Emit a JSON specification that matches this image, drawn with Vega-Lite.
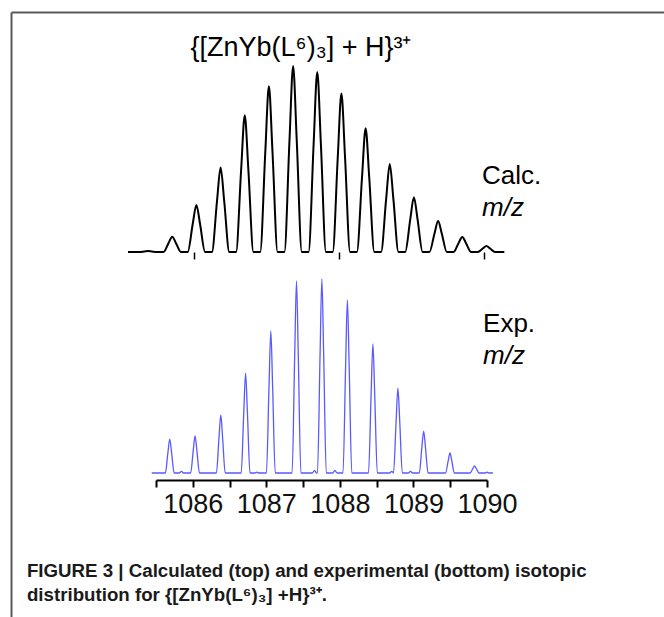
{
  "$schema": "https://vega.github.io/schema/vega-lite/v6.json",
  "width": 653,
  "height": 605,
  "autosize": {"type": "none"},
  "padding": {"left": 11, "top": 12, "right": 0, "bottom": 0},
  "background": "white",
  "config": {"view": {"stroke": null}, "font": "Liberation Sans", "axis": {"grid": false}},
  "datasets": {
    "calc": [
      {"mz": 1085.09, "intensity": 0},
      {"mz": 1085.247, "intensity": 0}, {"mz": 1085.317, "intensity": 0.3}, {"mz": 1085.367, "intensity": 0.5}, {"mz": 1085.417, "intensity": 0.3}, {"mz": 1085.487, "intensity": 0},
      {"mz": 1085.58, "intensity": 0}, {"mz": 1085.65, "intensity": 4.9}, {"mz": 1085.70, "intensity": 8.2}, {"mz": 1085.75, "intensity": 4.9}, {"mz": 1085.82, "intensity": 0},
      {"mz": 1085.913, "intensity": 0}, {"mz": 1085.983, "intensity": 15.2}, {"mz": 1086.033, "intensity": 25.3}, {"mz": 1086.083, "intensity": 15.2}, {"mz": 1086.153, "intensity": 0},
      {"mz": 1086.247, "intensity": 0}, {"mz": 1086.317, "intensity": 27.2}, {"mz": 1086.367, "intensity": 45.4}, {"mz": 1086.417, "intensity": 27.2}, {"mz": 1086.487, "intensity": 0},
      {"mz": 1086.58, "intensity": 0}, {"mz": 1086.65, "intensity": 44.1}, {"mz": 1086.70, "intensity": 73.5}, {"mz": 1086.75, "intensity": 44.1}, {"mz": 1086.82, "intensity": 0},
      {"mz": 1086.913, "intensity": 0}, {"mz": 1086.983, "intensity": 53.5}, {"mz": 1087.033, "intensity": 89.1}, {"mz": 1087.083, "intensity": 53.5}, {"mz": 1087.153, "intensity": 0},
      {"mz": 1087.247, "intensity": 0}, {"mz": 1087.317, "intensity": 60}, {"mz": 1087.367, "intensity": 100}, {"mz": 1087.417, "intensity": 60}, {"mz": 1087.487, "intensity": 0},
      {"mz": 1087.58, "intensity": 0}, {"mz": 1087.65, "intensity": 58.1}, {"mz": 1087.70, "intensity": 96.8}, {"mz": 1087.75, "intensity": 58.1}, {"mz": 1087.82, "intensity": 0},
      {"mz": 1087.913, "intensity": 0}, {"mz": 1087.983, "intensity": 51.1}, {"mz": 1088.033, "intensity": 85.2}, {"mz": 1088.083, "intensity": 51.1}, {"mz": 1088.153, "intensity": 0},
      {"mz": 1088.247, "intensity": 0}, {"mz": 1088.317, "intensity": 39.9}, {"mz": 1088.367, "intensity": 66.5}, {"mz": 1088.417, "intensity": 39.9}, {"mz": 1088.487, "intensity": 0},
      {"mz": 1088.58, "intensity": 0}, {"mz": 1088.65, "intensity": 28.4}, {"mz": 1088.70, "intensity": 47.3}, {"mz": 1088.75, "intensity": 28.4}, {"mz": 1088.82, "intensity": 0},
      {"mz": 1088.913, "intensity": 0}, {"mz": 1088.983, "intensity": 17.7}, {"mz": 1089.033, "intensity": 29.5}, {"mz": 1089.083, "intensity": 17.7}, {"mz": 1089.153, "intensity": 0},
      {"mz": 1089.247, "intensity": 0}, {"mz": 1089.317, "intensity": 10.0}, {"mz": 1089.367, "intensity": 16.7}, {"mz": 1089.417, "intensity": 10.0}, {"mz": 1089.487, "intensity": 0},
      {"mz": 1089.58, "intensity": 0}, {"mz": 1089.65, "intensity": 4.9}, {"mz": 1089.70, "intensity": 8.1}, {"mz": 1089.75, "intensity": 4.9}, {"mz": 1089.82, "intensity": 0},
      {"mz": 1089.913, "intensity": 0}, {"mz": 1089.983, "intensity": 1.9}, {"mz": 1090.033, "intensity": 3.2}, {"mz": 1090.083, "intensity": 1.9}, {"mz": 1090.153, "intensity": 0},
      {"mz": 1090.28, "intensity": 0}
    ],
    "exp": [
      {"mz": 1085.442, "intensity": 0},
      {"mz": 1085.627, "intensity": 0}, {"mz": 1085.662, "intensity": 10.5}, {"mz": 1085.687, "intensity": 17.5}, {"mz": 1085.712, "intensity": 10.5}, {"mz": 1085.747, "intensity": 0},
      {"mz": 1085.815, "intensity": 0}, {"mz": 1085.846, "intensity": 0.8}, {"mz": 1085.875, "intensity": 0},
      {"mz": 1085.971, "intensity": 0}, {"mz": 1086.006, "intensity": 11.5}, {"mz": 1086.031, "intensity": 19.1}, {"mz": 1086.056, "intensity": 11.5}, {"mz": 1086.091, "intensity": 0},
      {"mz": 1086.321, "intensity": 0}, {"mz": 1086.356, "intensity": 17.9}, {"mz": 1086.381, "intensity": 29.9}, {"mz": 1086.406, "intensity": 17.9}, {"mz": 1086.441, "intensity": 0},
      {"mz": 1086.658, "intensity": 0}, {"mz": 1086.693, "intensity": 30.9}, {"mz": 1086.718, "intensity": 51.5}, {"mz": 1086.743, "intensity": 30.9}, {"mz": 1086.778, "intensity": 0},
      {"mz": 1086.845, "intensity": 0}, {"mz": 1086.871, "intensity": 0.4}, {"mz": 1086.895, "intensity": 0},
      {"mz": 1087.001, "intensity": 0}, {"mz": 1087.036, "intensity": 43.9}, {"mz": 1087.061, "intensity": 73.2}, {"mz": 1087.086, "intensity": 43.9}, {"mz": 1087.121, "intensity": 0},
      {"mz": 1087.35, "intensity": 0}, {"mz": 1087.385, "intensity": 59.4}, {"mz": 1087.41, "intensity": 99}, {"mz": 1087.435, "intensity": 59.4}, {"mz": 1087.47, "intensity": 0},
      {"mz": 1087.625, "intensity": 0}, {"mz": 1087.655, "intensity": 1.2}, {"mz": 1087.685, "intensity": 0},
      {"mz": 1087.695, "intensity": 0}, {"mz": 1087.73, "intensity": 60}, {"mz": 1087.755, "intensity": 100}, {"mz": 1087.78, "intensity": 60}, {"mz": 1087.815, "intensity": 0},
      {"mz": 1087.90, "intensity": 0}, {"mz": 1087.932, "intensity": 1.2}, {"mz": 1087.965, "intensity": 0},
      {"mz": 1088.042, "intensity": 0}, {"mz": 1088.077, "intensity": 53.5}, {"mz": 1088.102, "intensity": 89.2}, {"mz": 1088.127, "intensity": 53.5}, {"mz": 1088.162, "intensity": 0},
      {"mz": 1088.389, "intensity": 0}, {"mz": 1088.424, "intensity": 39.9}, {"mz": 1088.449, "intensity": 66.5}, {"mz": 1088.474, "intensity": 39.9}, {"mz": 1088.509, "intensity": 0},
      {"mz": 1088.675, "intensity": 0}, {"mz": 1088.705, "intensity": 0.8},
      {"mz": 1088.729, "intensity": 0}, {"mz": 1088.764, "intensity": 26.3}, {"mz": 1088.789, "intensity": 43.8}, {"mz": 1088.814, "intensity": 26.3}, {"mz": 1088.849, "intensity": 0},
      {"mz": 1088.93, "intensity": 0}, {"mz": 1088.959, "intensity": 0.8}, {"mz": 1088.99, "intensity": 0},
      {"mz": 1089.079, "intensity": 0}, {"mz": 1089.114, "intensity": 13.0}, {"mz": 1089.139, "intensity": 21.6}, {"mz": 1089.164, "intensity": 13.0}, {"mz": 1089.199, "intensity": 0},
      {"mz": 1089.437, "intensity": 0}, {"mz": 1089.472, "intensity": 6.2}, {"mz": 1089.497, "intensity": 10.3}, {"mz": 1089.522, "intensity": 6.2}, {"mz": 1089.557, "intensity": 0},
      {"mz": 1089.771, "intensity": 0}, {"mz": 1089.806, "intensity": 2.2}, {"mz": 1089.831, "intensity": 3.6}, {"mz": 1089.856, "intensity": 2.2}, {"mz": 1089.891, "intensity": 0},
      {"mz": 1089.975, "intensity": 0}, {"mz": 1090.0, "intensity": 0.4}, {"mz": 1090.025, "intensity": 0},
      {"mz": 1090.08, "intensity": 0}
    ]
  },
  "layer": [
    {
      "data": {"values": [{}]},
      "layer": [
        {
          "mark": {"type": "text", "text": "{[ZnYb(L⁶)₃] + H}³⁺", "font": "Liberation Sans", "fontSize": 27, "align": "center", "baseline": "alphabetic", "color": "black"},
          "encoding": {
            "x": {"datum": 1087.469, "type": "quantitative", "scale": {"domain": [1083.524, 1092.408], "nice": false, "zero": false}, "axis": {"orient": "top", "domain": true, "domainColor": "#5a5a5a", "domainWidth": 2, "ticks": false, "labels": false, "title": null, "grid": false}},
            "y": {"datum": 417, "type": "quantitative", "scale": {"domain": [-144, 461], "nice": false, "zero": false}, "axis": {"orient": "left", "domain": true, "domainColor": "#5a5a5a", "domainWidth": 2, "ticks": false, "labels": false, "title": null, "grid": false}}
          }
        },
        {
          "mark": {"type": "text", "text": "Calc.", "font": "Liberation Sans", "fontSize": 26, "align": "left", "baseline": "alphabetic", "color": "black"},
          "encoding": {
            "x": {"datum": 1089.932, "type": "quantitative", "scale": {"domain": [1083.524, 1092.408], "nice": false, "zero": false}, "axis": {"orient": "top", "domain": true, "domainColor": "#5a5a5a", "domainWidth": 2, "ticks": false, "labels": false, "title": null, "grid": false}},
            "y": {"datum": 289, "type": "quantitative", "scale": {"domain": [-144, 461], "nice": false, "zero": false}, "axis": {"orient": "left", "domain": true, "domainColor": "#5a5a5a", "domainWidth": 2, "ticks": false, "labels": false, "title": null, "grid": false}}
          }
        },
        {
          "mark": {"type": "text", "text": "m/z", "font": "Liberation Sans", "fontSize": 26, "fontStyle": "italic", "align": "left", "baseline": "alphabetic", "color": "black"},
          "encoding": {
            "x": {"datum": 1089.932, "type": "quantitative", "scale": {"domain": [1083.524, 1092.408], "nice": false, "zero": false}, "axis": {"orient": "top", "domain": true, "domainColor": "#5a5a5a", "domainWidth": 2, "ticks": false, "labels": false, "title": null, "grid": false}},
            "y": {"datum": 257, "type": "quantitative", "scale": {"domain": [-144, 461], "nice": false, "zero": false}, "axis": {"orient": "left", "domain": true, "domainColor": "#5a5a5a", "domainWidth": 2, "ticks": false, "labels": false, "title": null, "grid": false}}
          }
        },
        {
          "mark": {"type": "text", "text": "Exp.", "font": "Liberation Sans", "fontSize": 26, "align": "left", "baseline": "alphabetic", "color": "black"},
          "encoding": {
            "x": {"datum": 1089.946, "type": "quantitative", "scale": {"domain": [1083.524, 1092.408], "nice": false, "zero": false}, "axis": {"orient": "top", "domain": true, "domainColor": "#5a5a5a", "domainWidth": 2, "ticks": false, "labels": false, "title": null, "grid": false}},
            "y": {"datum": 141, "type": "quantitative", "scale": {"domain": [-144, 461], "nice": false, "zero": false}, "axis": {"orient": "left", "domain": true, "domainColor": "#5a5a5a", "domainWidth": 2, "ticks": false, "labels": false, "title": null, "grid": false}}
          }
        },
        {
          "mark": {"type": "text", "text": "m/z", "font": "Liberation Sans", "fontSize": 26, "fontStyle": "italic", "align": "left", "baseline": "alphabetic", "color": "black"},
          "encoding": {
            "x": {"datum": 1089.946, "type": "quantitative", "scale": {"domain": [1083.524, 1092.408], "nice": false, "zero": false}, "axis": {"orient": "top", "domain": true, "domainColor": "#5a5a5a", "domainWidth": 2, "ticks": false, "labels": false, "title": null, "grid": false}},
            "y": {"datum": 109, "type": "quantitative", "scale": {"domain": [-144, 461], "nice": false, "zero": false}, "axis": {"orient": "left", "domain": true, "domainColor": "#5a5a5a", "domainWidth": 2, "ticks": false, "labels": false, "title": null, "grid": false}}
          }
        },
        {
          "mark": {"type": "text", "text": ["FIGURE 3 | Calculated (top) and experimental (bottom) isotopic", "distribution for {[ZnYb(L⁶)₃] +H}³⁺."], "font": "Liberation Sans", "fontSize": 18.7, "fontWeight": "bold", "lineHeight": 24, "align": "left", "baseline": "alphabetic", "color": "#1a1a1a"},
          "encoding": {
            "x": {"datum": 1083.741, "type": "quantitative", "scale": {"domain": [1083.524, 1092.408], "nice": false, "zero": false}, "axis": {"orient": "top", "domain": true, "domainColor": "#5a5a5a", "domainWidth": 2, "ticks": false, "labels": false, "title": null, "grid": false}},
            "y": {"datum": -104, "type": "quantitative", "scale": {"domain": [-144, 461], "nice": false, "zero": false}, "axis": {"orient": "left", "domain": true, "domainColor": "#5a5a5a", "domainWidth": 2, "ticks": false, "labels": false, "title": null, "grid": false}}
          }
        }
      ]
    },
    {
      "data": {"name": "calc"},
      "mark": {"type": "line", "interpolate": "monotone", "color": "black", "strokeWidth": 2},
      "encoding": {
        "x": {"field": "mz", "type": "quantitative", "scale": {"domain": [1085.476, 1090.041], "range": [145, 476], "nice": false, "zero": false}, "axis": {"orient": "bottom", "offset": -365, "values": [1086, 1088, 1090], "tickCount": 20, "domain": false, "labels": false, "ticks": true, "tickSize": 7, "tickWidth": 1.5, "tickColor": "black", "title": null, "grid": false}},
        "y": {"field": "intensity", "type": "quantitative", "scale": {"domain": [0, 100], "range": [240, 54], "nice": false, "zero": false}, "axis": null}
      }
    },
    {
      "data": {"name": "exp"},
      "mark": {"type": "line", "interpolate": "monotone", "color": "#3c3cff", "strokeWidth": 1.3, "opacity": 0.85},
      "encoding": {
        "x": {"field": "mz", "type": "quantitative", "scale": {"domain": [1085.5, 1090], "range": [145, 476], "nice": false, "zero": false}, "axis": {"orient": "bottom", "offset": -137, "values": [1085.5, 1086, 1086.5, 1087, 1087.5, 1088, 1088.5, 1089, 1089.5, 1090], "tickCount": 20, "labelExpr": "datum.value % 1 === 0 ? format(datum.value, 'd') : ''", "labelOverlap": false, "labelBound": false, "labelFlush": false, "domainColor": "black", "domainWidth": 2, "tickColor": "black", "tickWidth": 2, "tickSize": 7, "labelFont": "Liberation Sans", "labelFontSize": 27, "labelColor": "#111111", "labelPadding": 4, "title": null, "grid": false}},
        "y": {"field": "intensity", "type": "quantitative", "scale": {"domain": [0, 100], "range": [461, 267], "nice": false, "zero": false}, "axis": null}
      }
    }
  ],
  "resolve": {"scale": {"x": "independent", "y": "independent"}}
}
